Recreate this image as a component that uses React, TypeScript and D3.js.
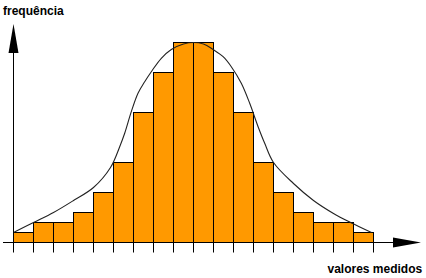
import React from "react";
import * as d3 from "d3";

const frequencies = [1, 2, 2, 3, 5, 8, 13, 17, 20, 20, 17, 13, 8, 5, 3, 2, 2, 1];
const curveX = [0, 1, 2, 3, 4, 4.85, 5.31, 5.56, 5.89, 6.225, 6.56, 6.89, 7.39, 7.89, 8.5, 9, 9.5, 9.98, 10.48, 10.89, 11.39, 11.81, 12.23, 12.56, 13, 14, 15, 16, 16.85, 17.9];
const curveY = [1.0, 2.0, 3.0, 4.2, 5.5, 7.5, 9.58, 10.92, 13.08, 14.92, 16.08, 17.08, 18.42, 19.3, 19.85, 20.0, 19.85, 19.3, 18.58, 17.58, 15.92, 13.92, 11.58, 9.92, 8.0, 5.9, 4.2, 2.9, 2.0, 1.0];
const yLabel = "frequência";
const xLabel = "valores medidos";

const W = 426;
const H = 278;

export default function App() {
  const x = d3.scaleLinear().domain([0, frequencies.length]).range([13.5, 373.5]);
  const y = d3.scaleLinear().domain([0, 20]).range([242.5, 42.5]);
  const pts: [number, number][] = curveX.map((v, i) => [v, curveY[i]]);
  const line = d3
    .line<[number, number]>()
    .x((d) => x(d[0]))
    .y((d) => y(d[1]))
    .curve(d3.curveCatmullRom.alpha(0.5));
  const ticks = d3.range(frequencies.length + 1);
  const x0 = x(0);
  const y0 = y(0);
  return (
    <svg
      width={W}
      height={H}
      style={{ position: "absolute", left: 0, top: 0, background: "#fff" }}
      fontFamily="'Liberation Sans', Arial, sans-serif"
    >
      {frequencies.map((f, i) => (
        <rect
          key={i}
          x={x(i)}
          y={y(f)}
          width={x(i + 1) - x(i)}
          height={y0 - y(f)}
          fill="#ff9900"
          stroke="#000"
          strokeWidth={1}
        />
      ))}
      <path d={line(pts) || ""} fill="none" stroke="#222" strokeWidth={1.1} />
      {/* x axis */}
      <line x1={3} x2={395} y1={y0} y2={y0} stroke="#000" strokeWidth={1} />
      <path d={`M393,${y0 - 5}L421,${y0}L393,${y0 + 5}Z`} fill="#000" />
      {ticks.map((t) => (
        <line key={t} x1={x(t)} x2={x(t)} y1={y0} y2={y0 + 10} stroke="#000" strokeWidth={1} />
      ))}
      {/* y axis */}
      <line x1={x0} x2={x0} y1={y0} y2={50} stroke="#000" strokeWidth={1} />
      <path d={`M${x0 - 5},53L${x0},24L${x0 + 5},53Z`} fill="#000" />
      <text x={3} y={15} fontSize={12} fontWeight="bold" fill="#000">
        {yLabel}
      </text>
      <text x={327.5} y={272.5} fontSize={12} fontWeight="bold" fill="#000">
        {xLabel}
      </text>
    </svg>
  );
}
